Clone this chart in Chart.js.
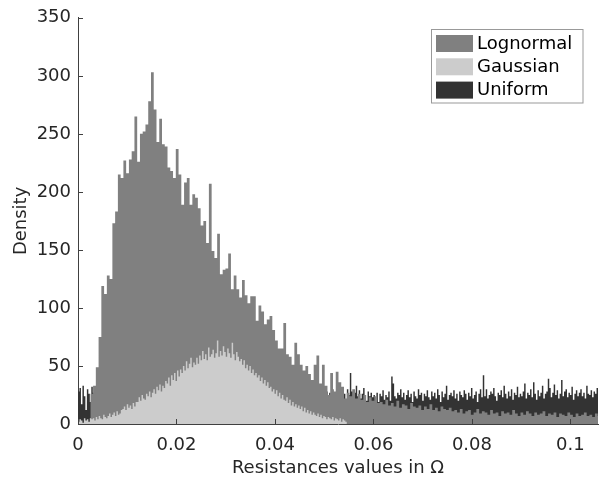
<!DOCTYPE html>
<html>
<head>
<meta charset="utf-8">
<script src="https://cdn.jsdelivr.net/npm/chart.js@4.4.1/dist/chart.umd.min.js"></script>
<style>
  html, body { margin: 0; padding: 0; background: #fff; }
  canvas { display: block; }
</style>
</head>
<body>
<canvas id="histChart" width="605" height="481"></canvas>
<script>
// histogram bins: first left edge, bin width, density per bin
const lognormalStart = 0.0025;
const lognormalWidth = 0.00056;
const lognormalDensity = [
  26, 33, 49, 75, 119, 112, 128, 125, 173, 183, 215, 212, 227, 216, 228, 235, 265, 226, 250, 252,
  258, 278, 303, 271, 243, 263, 241, 239, 221, 218, 212, 237, 215, 189, 208, 212, 189, 198, 195, 186,
  171, 175, 156, 207, 149, 143, 164, 129, 133, 134, 147, 116, 128, 116, 109, 124, 111, 104, 110, 110,
  89, 102, 97, 86, 90, 93, 81, 72, 65, 65, 87, 60, 58, 51, 70, 60, 51, 46, 50, 43,
  38, 51, 59, 35, 51, 33, 25, 44, 28, 45, 36, 32, 22,
  27, 24, 30, 22, 26, 21, 25, 19, 23, 20, 24, 18,
  19, 17, 21, 16, 18, 15, 20, 14, 17, 16, 13, 18, 15, 14, 16, 12, 15, 13, 17, 12, 14, 11, 15, 13, 12, 14, 11,
  12, 10, 13, 9, 11, 12, 8, 10, 13, 9, 11, 10, 8, 12, 9, 10, 7, 11, 9, 10,
  8, 12, 9, 7, 10, 8, 11, 9, 7, 10, 8, 9, 11, 7, 9, 8, 10, 6, 9, 8,
  7, 10, 8, 6, 9, 7, 8, 10, 7, 8, 6, 9, 7, 8, 7
];

const gaussianStart = 0;
const gaussianWidth = 0.0003;
const gaussianDensity = [
  2, 4, 3, 1, 5, 3, 4, 2, 5, 4,
  5, 3, 6, 4, 7, 5, 4, 8, 6, 5,
  7, 9, 6, 8, 10, 7, 11, 8, 9, 12,
  13, 15, 12, 17, 14, 16, 13, 18, 15, 19,
  19, 23, 20, 25, 22, 21, 26, 24, 28, 23,
  27, 30, 26, 32, 29, 34, 28, 33, 31, 37,
  35, 40, 33, 42, 38, 44, 37, 46, 41, 47,
  44, 50, 46, 54, 48, 52, 57, 49, 53, 51,
  57, 52, 59, 55, 63, 56, 60, 55, 66, 58,
  60, 64, 57, 61, 72, 58, 63, 59, 67, 62,
  58, 65, 61, 57, 70, 60, 55, 62, 58, 54,
  56, 51, 55, 48, 51, 46, 50, 44, 47, 42,
  44, 40, 42, 37, 40, 35, 38, 33, 36, 31,
  32, 28, 30, 26, 29, 24, 27, 22, 25, 21,
  20, 23, 18, 21, 16, 19, 15, 17, 14, 16,
  13, 15, 11, 14, 10, 12, 9, 11, 8, 10,
  8, 7, 9, 6, 8, 5, 7, 6, 4, 6,
  5, 4, 6, 3, 5, 4, 3, 5, 2, 4, 3, 2
];

const uniformStart = 0;
const uniformWidth = 0.0003;
const uniformDensity = [
  28, 31, 17, 33, 24, 12, 30, 26, 19, 32, 27, 22, 14, 29, 25, 31, 20, 26, 23, 18,
  27, 21, 30, 24, 16, 28, 25, 33, 22, 19, 26, 29, 23, 20, 31, 24, 27, 17, 25, 28,
  22, 30, 26, 19, 24, 32, 21, 27, 25, 18, 29, 23, 26, 30, 20, 24, 28, 22, 33, 25,
  19, 27, 24, 29, 21, 26, 31, 23, 18, 28, 25, 22, 30, 24, 27, 20, 26, 29, 23, 21,
  28, 24, 32, 20, 26, 23, 29, 25, 17, 27, 30, 22, 24, 28, 21, 26, 33, 23, 19, 27,
  25, 29, 22, 26, 31, 24, 20, 28, 23, 27, 25, 30, 21, 24, 26, 19, 29, 23, 27, 22,
  26, 30, 24, 21, 28, 25, 23, 31, 27, 20, 24, 29, 22, 26, 28, 23, 25, 30, 21, 27,
  24, 28, 22, 26, 31, 23, 27, 25, 20, 29, 24, 26, 22, 30, 25, 27, 23, 28, 21, 26,
  29, 24, 27, 22, 25, 31, 26, 23, 28, 20, 27, 24, 30, 22, 26, 25, 29, 23, 27, 24,
  26, 21, 30, 25, 44, 28, 23, 27, 33, 24, 29, 22, 26, 31, 25, 20, 28, 24, 27, 23,
  25, 22, 27, 19, 26, 24, 29, 21, 25, 23, 28, 20, 41, 35, 24, 22, 27, 25, 30, 23,
  27, 21, 25, 29, 23, 26, 19, 28, 24, 22, 30, 25, 27, 20, 26, 24, 29, 23, 21, 28,
  24, 27, 22, 30, 25, 19, 28, 23, 26, 33, 21, 25, 27, 24, 29, 22, 26, 20, 28, 25,
  23, 29, 26, 21, 27, 24, 31, 22, 25, 28, 19, 26, 30, 23, 42, 24, 30, 22, 25, 28,
  26, 31, 24, 20, 27, 25, 29, 23, 33, 26, 22, 28, 24, 30, 21, 27, 25, 32, 23, 26,
  24, 28, 35, 22, 27, 25, 30, 23, 36, 26, 21, 29, 24, 27, 33, 22, 26, 28, 39, 31,
  23, 27, 34, 25, 29, 22, 26, 38, 24, 28, 30, 23, 27, 25, 32, 21, 26, 29, 24, 27,
  30, 24, 27, 22, 33, 26, 25, 29, 23, 28, 26, 31
];

const xTicks = [0, 0.02, 0.04, 0.06, 0.08, 0.1];
const yTicks = [0, 50, 100, 150, 200, 250, 300, 350];

const seriesNames = ['Lognormal', 'Gaussian', 'Uniform'];
const seriesColors = ['#808080', '#cccccc', '#333333'];

// left edge of every bin, plus the closing edge back down to zero
function toSteps(start, width, values) {
  const pts = values.map((v, i) => ({ x: start + i * width, y: v }));
  pts.push({ x: start + values.length * width, y: 0 });
  return pts;
}

function histSet(label, color, order, points) {
  return {
    label,
    data: points,
    order,
    stepped: true,
    fill: 'origin',
    backgroundColor: color,
    borderColor: 'rgba(0,0,0,0)',
    borderWidth: 0,
    pointRadius: 0,
    pointHoverRadius: 0,
    tension: 0
  };
}

const font = { family: 'DejaVu Sans', size: 18 };
const axisColor = '#404040';

// inward tick marks and the boxed legend in the upper right
const decor = {
  id: 'decor',
  afterDraw(chart) {
    const { ctx, chartArea: a, scales: { x, y } } = chart;
    ctx.save();
    ctx.strokeStyle = axisColor;
    ctx.lineWidth = 1;
    ctx.beginPath();
    xTicks.forEach(v => {
      const px = Math.round(x.getPixelForValue(v)) + 0.5;
      ctx.moveTo(px, a.bottom);
      ctx.lineTo(px, a.bottom - 5);
    });
    yTicks.forEach(v => {
      const py = Math.round(y.getPixelForValue(v)) + 0.5;
      ctx.moveTo(a.left, py);
      ctx.lineTo(a.left + 5, py);
    });
    ctx.stroke();

    const bx = 431.5, by = 29.5, bw = 151.5, bh = 73.5;
    ctx.fillStyle = '#fff';
    ctx.fillRect(bx, by, bw, bh);
    ctx.strokeStyle = '#999';
    ctx.strokeRect(bx, by, bw, bh);
    ctx.font = '18px "DejaVu Sans"';
    ctx.textBaseline = 'middle';
    ctx.textAlign = 'left';
    seriesNames.forEach((name, i) => {
      const top = 35 + i * 23.3;
      ctx.fillStyle = seriesColors[i];
      ctx.fillRect(436, top, 37, 17);
      ctx.fillStyle = '#000';
      ctx.fillText(name, 477, top + 9);
    });
    ctx.restore();
  }
};

new Chart(document.getElementById('histChart'), {
  type: 'line',
  data: {
    datasets: [
      histSet(seriesNames[1], seriesColors[1], 1, toSteps(gaussianStart, gaussianWidth, gaussianDensity)),
      histSet(seriesNames[0], seriesColors[0], 2, toSteps(lognormalStart, lognormalWidth, lognormalDensity)),
      histSet(seriesNames[2], seriesColors[2], 3, toSteps(uniformStart, uniformWidth, uniformDensity))
    ]
  },
  options: {
    responsive: false,
    animation: false,
    devicePixelRatio: 1,
    layout: { padding: { top: 16, right: 7, left: 0, bottom: 0 } },
    plugins: { legend: { display: false }, tooltip: { enabled: false } },
    scales: {
      x: {
        type: 'linear',
        min: 0,
        max: 0.1056,
        z: 1,
        afterFit: s => { s.height = 57; },
        afterBuildTicks: s => { s.ticks = xTicks.map(v => ({ value: v })); },
        grid: { display: true, drawOnChartArea: false, drawTicks: false },
        border: { display: true, color: axisColor, width: 1 },
        ticks: {
          padding: 11,
          color: '#262626',
          font,
          maxRotation: 0,
          autoSkip: false,
          callback: v => String(+v.toFixed(2))
        },
        title: {
          display: true,
          text: 'Resistances values in Ω',
          color: '#262626',
          font,
          padding: { top: 0, bottom: 2 }
        }
      },
      y: {
        min: 0,
        max: 350,
        z: 1,
        afterFit: s => { s.width = 78; },
        afterBuildTicks: s => { s.ticks = yTicks.map(v => ({ value: v })); },
        grid: { display: true, drawOnChartArea: false, drawTicks: false },
        border: { display: true, color: axisColor, width: 1 },
        ticks: { padding: 7, color: '#262626', font, autoSkip: false },
        title: {
          display: true,
          text: 'Density',
          color: '#262626',
          font,
          padding: { top: 11, bottom: 0 }
        }
      }
    }
  },
  plugins: [decor]
});
</script>
</body>
</html>
